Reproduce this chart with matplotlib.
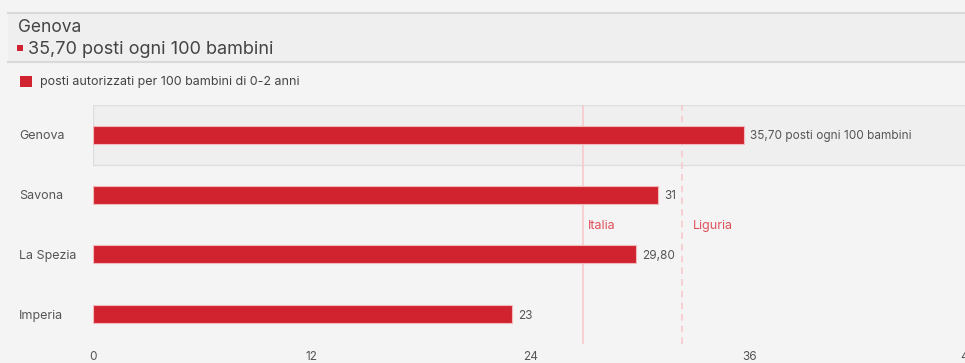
import matplotlib.pyplot as plt
from matplotlib.patches import Rectangle
from matplotlib.transforms import blended_transform_factory

plt.rcParams['font.family'] = ['Inter', 'DejaVu Sans']

# Data
province = ["Genova", "Savona", "La Spezia", "Imperia"]
posti = [35.70, 31, 29.80, 23]
value_labels = ["35,70 posti ogni 100 bambini", "31", "29,80", "23"]
ref_names = ["Italia", "Liguria"]
ref_values = [26.9, 32.3]
x_ticks = [0, 12, 24, 36, 48]

W, H = 965, 363
RED = "#d0232f"
BG = "#f4f4f4"

fig = plt.figure(figsize=(W / 100, H / 100), dpi=100, facecolor=BG)

def fx(px):
    return px / W

def fy(py):
    return 1 - py / H

# Header band with selected province
fig.patches.append(Rectangle((fx(8), fy(62)), 1, (62 - 13) / H, transform=fig.transFigure,
                             facecolor="#efefef", edgecolor="none", zorder=0))
for yy in (13, 62):
    fig.add_artist(plt.Line2D([fx(8), 1], [fy(yy), fy(yy)], color="#d9d9d9", lw=1.5))
fig.text(fx(18), fy(27), "Genova", fontsize=12.5, color="#444444", va="center", ha="left")
fig.patches.append(Rectangle((fx(17), fy(51)), 6 / W, 6 / H, transform=fig.transFigure,
                             facecolor=RED, edgecolor="none"))
fig.text(fx(28), fy(49), "35,70 posti ogni 100 bambini", fontsize=13, color="#444444",
         va="center", ha="left")

# Legend
fig.patches.append(Rectangle((fx(20), fy(87)), 12 / W, 11 / H, transform=fig.transFigure,
                             facecolor=RED, edgecolor="none"))
fig.text(fx(40), fy(81.5), "posti autorizzati per 100 bambini di 0-2 anni", fontsize=9,
         color="#444444", va="center", ha="left")

# Plot area
left, right, top, bottom = 93, 968, 105, 344
ax = fig.add_axes([fx(left), fy(bottom), (right - left) / W, (bottom - top) / H])
ax.set_facecolor("none")
ax.set_xlim(0, 48)
ax.set_ylim(len(province) - 0.5, -0.5)

ypos = list(range(len(province)))

# Highlight row of the selected province
ax.add_patch(Rectangle((0, -0.5), 48, 1, facecolor="#efefef", edgecolor="#dedede", lw=1, zorder=0))

ax.barh(ypos, posti, height=0.30, color=RED, edgecolor="#f2b8bc", linewidth=0.8, zorder=3)

for y, v, lab in zip(ypos, posti, value_labels):
    ax.annotate(lab, (v, y), xytext=(4.5, 0), textcoords="offset points", fontsize=8.5,
                color="#555555", va="center_baseline", ha="left")

# Reference lines
styles = ["-", (0, (4, 3))]
label_pad = [3, 8]
for name, val, ls, pad in zip(ref_names, ref_values, styles, label_pad):
    ax.axvline(val, color="#f7c9cd", lw=1.2, linestyle=ls, zorder=1)
    ax.annotate(name, (val, 1.5), xytext=(pad, 0), textcoords="offset points", fontsize=9,
                color="#e0505a", va="center_baseline", ha="left")

ax.set_xticks(x_ticks)
ax.set_xticklabels([str(t) for t in x_ticks], fontsize=8.5, color="#555555")
ax.tick_params(axis="x", length=0, pad=5)
ax.set_yticks([])
for s in ax.spines.values():
    s.set_visible(False)

# Category labels
label_tr = blended_transform_factory(fig.transFigure, ax.transData)
for y, name in zip(ypos, province):
    fig.text(fx(19), y, name, transform=label_tr, fontsize=9, color="#555555",
             va="center_baseline", ha="left")

fig.savefig("out.png", dpi=100, facecolor=BG)
